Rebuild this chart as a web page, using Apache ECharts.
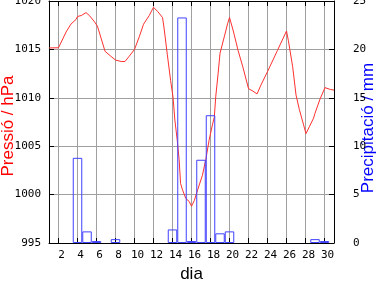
<!DOCTYPE html>
<html>
<head>
<meta charset="utf-8">
<script src="https://cdn.jsdelivr.net/npm/echarts@6/dist/echarts.min.js"></script>
<style>html,body{margin:0;padding:0;background:#fff;}#c{width:384px;height:288px;}</style>
</head>
<body>
<div id="c"></div>
<script>
// Pressure (hPa) at sub-daily positions
const pressDays = [1.0,2.0,2.8,3.3,3.85,4.0,4.4,4.9,5.25,5.75,6.1,6.5,6.9,7.5,8.0,8.6,9.0,9.45,10.0,10.5,10.95,11.55,12.0,12.45,12.95,13.1,13.45,13.8,14.05,14.25,14.5,14.7,14.85,15.05,15.4,15.75,16.0,16.3,16.65,17.15,17.5,17.85,18.2,18.4,18.55,18.8,19.0,19.45,19.8,20.0,20.4,20.9,21.4,22.0,22.45,22.9,23.3,24.0,25.05,26.0,26.2,26.65,27.0,27.35,27.8,28.05,28.4,28.85,29.0,29.5,30.05,30.65,31.0];
const pressVals = [1015.15,1015.17,1016.8,1017.6,1018.1,1018.4,1018.5,1018.8,1018.5,1017.9,1017.4,1016.1,1014.8,1014.3,1013.9,1013.75,1013.75,1014.3,1015.0,1016.3,1017.6,1018.5,1019.35,1018.9,1018.3,1017.3,1014.5,1011.8,1010.1,1007.7,1005.6,1003.6,1001.15,1000.5,999.6,999.3,998.8,999.4,1000.5,1002.0,1003.6,1005.6,1007.2,1008.0,1010.1,1012.5,1014.6,1016.3,1017.65,1018.3,1016.9,1014.9,1013.2,1010.95,1010.7,1010.4,1011.3,1012.7,1014.9,1016.9,1015.9,1013.2,1010.3,1008.8,1007.2,1006.3,1007.0,1007.9,1008.4,1009.8,1011.05,1010.85,1010.8];
// Precipitation (mm) per day
const rainDays = [4,5,6,8,14,15,16,17,18,19,20,29,30];
const rainVals = [8.8,1.2,0.2,0.4,1.4,23.3,0.2,8.6,13.2,1.0,1.2,0.4,0.2];
// Tick labels
const xTicks = [2,4,6,8,10,12,14,16,18,20,22,24,26,28,30];
// Titles
const xTitle = 'dia';
const yLeftTitle = 'Pressió / hPa';
const yRightTitle = 'Precipitació / mm';

const gridL = 49, gridR = 50, gridT = 1, gridB = 45;
const xMin = 1, xMax = 31;
const plotW = 384 - gridL - gridR;
const barW = plotW / (xMax - xMin);

const monoFont = 'DejaVu Sans Mono';
const plain = v => String(v);
const chart = echarts.init(document.getElementById('c'), null, {renderer: 'canvas'});
chart.setOption({
  animation: false,
  backgroundColor: '#fff',
  grid: {left: gridL, right: gridR, top: gridT, bottom: gridB, show: false, containLabel: false, outerBoundsMode: 'none'},
  graphic: [{
    type: 'text', x: 8, y: 126, rotation: Math.PI / 2,
    style: {text: yLeftTitle, fill: '#ff0000', font: '17px "Liberation Sans"', align: 'center', verticalAlign: 'middle'}
  }, {
    type: 'text', x: 368, y: 128, rotation: Math.PI / 2,
    style: {text: yRightTitle, fill: '#0000ff', font: '17px "Liberation Sans"', align: 'center', verticalAlign: 'middle'}
  }],
  xAxis: [{
    type: 'value', min: xMin, max: xMax, splitNumber: xTicks.length, position: 'bottom',
    name: xTitle, nameLocation: 'middle', nameGap: 23,
    nameTextStyle: {fontFamily: 'Liberation Sans', fontSize: 17, color: '#000'},
    axisLine: {show: true, onZero: false, lineStyle: {color: '#000', width: 1}},
    axisTick: {show: true, inside: true, length: 5, lineStyle: {color: '#000'}},
    axisLabel: {fontFamily: monoFont, fontSize: 11, color: '#000', margin: 7, padding: [0,0,0,6],
      showMinLabel: false, showMaxLabel: false,
      formatter: v => (xTicks.indexOf(v) >= 0 ? String(v) : '')},
    splitLine: {show: true, lineStyle: {color: '#a0a0a0', width: 1}}
  }, {
    type: 'value', min: xMin, max: xMax, splitNumber: xTicks.length, position: 'top',
    axisLine: {show: true, onZero: false, lineStyle: {color: '#000', width: 1}},
    axisTick: {show: true, inside: true, length: 5, lineStyle: {color: '#000'}},
    axisLabel: {show: false},
    splitLine: {show: false}
  }],
  yAxis: [{
    type: 'value', min: 995, max: 1020, interval: 5, position: 'left',
    axisLine: {show: true, lineStyle: {color: '#000', width: 1}},
    axisTick: {show: true, inside: true, length: 5, lineStyle: {color: '#000'}},
    axisLabel: {fontFamily: monoFont, fontSize: 11, color: '#000', margin: 8, formatter: plain},
    splitLine: {show: true, lineStyle: {color: '#a0a0a0', width: 1}}
  }, {
    type: 'value', min: 0, max: 25, interval: 5, position: 'right',
    axisLine: {show: true, lineStyle: {color: '#000', width: 1}},
    axisTick: {show: true, inside: true, length: 5, lineStyle: {color: '#000'}},
    axisLabel: {fontFamily: monoFont, fontSize: 11, color: '#000', margin: 19, formatter: plain},
    splitLine: {show: false}
  }],
  series: [{
    type: 'line', xAxisIndex: 0, yAxisIndex: 0,
    data: pressDays.map((d, i) => [d, pressVals[i]]),
    showSymbol: false, symbol: 'none',
    lineStyle: {color: '#ff3030', width: 1},
    z: 2
  }, {
    type: 'bar', xAxisIndex: 0, yAxisIndex: 1,
    data: rainDays.map((d, i) => [d, rainVals[i]]),
    barWidth: barW,
    itemStyle: {color: 'rgba(0,0,0,0)', borderColor: '#4040ff', borderWidth: 1},
    z: 3
  }]
});
</script>
</body>
</html>
